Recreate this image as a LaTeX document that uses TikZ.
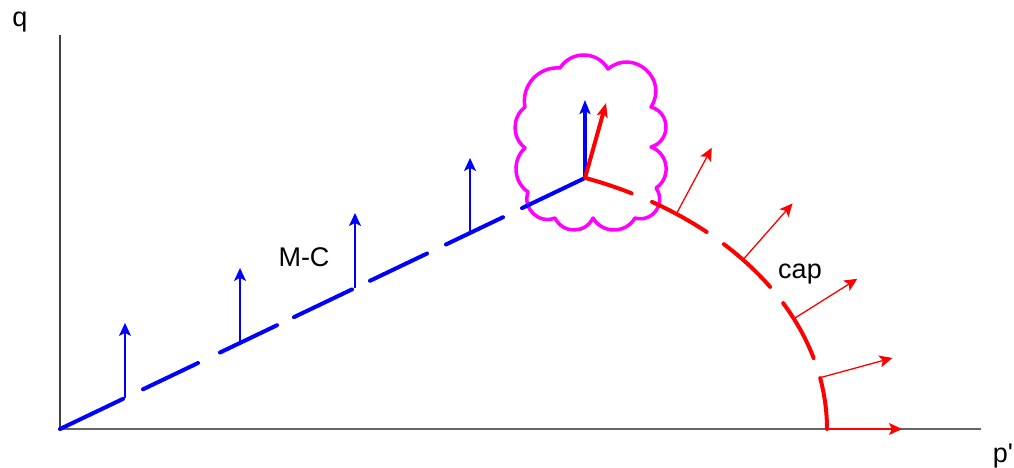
\documentclass[tikz,border=0pt]{standalone}
\usepackage{fontspec}
\setmainfont{Liberation Sans}[Ligatures=TeXOff]
\usetikzlibrary{arrows.meta,calc}
\definecolor{mag}{RGB}{255,0,255}
\definecolor{pblue}{RGB}{0,0,255}
\definecolor{pred}{RGB}{255,0,0}
\begin{document}
\begin{tikzpicture}[x=1pt,y=-1pt,
  lbl/.style={font=\fontsize{27}{32}\selectfont, inner sep=0pt, anchor=base},
  axisv/.style={draw=black!75, line width=1.5pt},
  axish/.style={draw=black!60, line width=1.5pt},
  mcline/.style={draw=pblue, line width=4pt, line cap=round},
  capline/.style={draw=pred, line width=4pt, line cap=round},
  thinblue/.style={draw=pblue, line width=1.5pt, -{Stealth[length=13pt,width=12pt,inset=3pt]}},
  thinred/.style={draw=pred, line width=1.3pt, -{Stealth[length=13pt,width=12pt,inset=3pt]}},
  thickblue/.style={draw=pblue, line width=4pt, -{Stealth[length=14pt,width=11pt,inset=3pt]}},
  thickred/.style={draw=pred, line width=4pt, -{Stealth[length=14pt,width=11pt,inset=3pt]}},
  cloudline/.style={draw=mag, line width=3.5pt, line join=round}
]
\useasboundingbox (0,0) rectangle (1014,468);
\coordinate (O) at (60,429);
\coordinate (ytop) at (60,35);
\coordinate (xend) at (981,429);
\coordinate (A) at (585,178);
\coordinate (Bt) at (585,100);
\coordinate (Rt) at (606,103);

% cloud cusps
\coordinate (c1) at (560,68);
\coordinate (c2) at (608,69);
\coordinate (c3) at (651,107);
\coordinate (c4) at (651,147);
\coordinate (c5) at (656,188);
\coordinate (c6) at (635,218);
\coordinate (c7) at (593,218);
\coordinate (c8) at (555,218);
\coordinate (c9) at (528,192);
\coordinate (c10) at (525,148);
\coordinate (c11) at (525,107);
\draw[cloudline] (c11)
  to[bend left=52.8, looseness=1.061] (c1)
  to[bend left=58.7, looseness=1.121] (c2)
  to[bend left=81.4, looseness=1.48] (c3)
  to[bend left=73.7, looseness=1.33] (c4)
  to[bend left=62.8, looseness=1.168] (c5)
  to[bend left=70.7, looseness=1.28] (c6)
  to[bend left=59.5, looseness=1.13] (c7)
  to[bend left=64.6, looseness=1.19] (c8)
  to[bend left=65.4, looseness=1.2] (c9)
  to[bend left=51.0, looseness=1.045] (c10)
  to[bend left=51.9, looseness=1.055] (c11) -- cycle;

% axes
\draw[axisv] (ytop) -- (O);
\draw[axish] (O) -- (xend);
\node[lbl] (q) at (20,27) {q};
\node[lbl] (p) at (1003,462.5) {p'};

% M-C dashed line
\foreach \a/\b in {0/0.12, 0.1581/0.2629, 0.3048/0.4133, 0.4457/0.5562, 0.5905/0.6990, 0.7352/0.8438, 0.88/1}{
  \draw[mcline] ($(O)!\a!(A)$) -- ($(O)!\b!(A)$);
}
% blue thin arrows
\foreach \f in {0.1238,0.3429,0.5619,0.7810}{
  \draw[thinblue] ($(O)!\f!(A)$) -- ++(0,-75);
}

% cap ellipse segments
\foreach \a/\b in {61.2/69, 47.1/57.6, 31.9/43.4, 15.3/27.9, 0/10.9}{
  \draw[capline] plot[domain=\a:\b, samples=20] ({450+377*cos(\x)},{429-269*sin(\x)});
}
% red normals
\foreach \t in {53.1,39,24.2,11,0}{
  \pgfmathsetmacro{\nx}{cos(\t)*2.69}
  \pgfmathsetmacro{\ny}{sin(\t)*3.77}
  \pgfmathsetmacro{\nn}{sqrt(\nx*\nx+\ny*\ny)}
  \draw[thinred] ({450+377*cos(\t)},{429-269*sin(\t)}) -- ++({75*\nx/\nn},{-75*\ny/\nn});
}

% thick arrows at apex
\draw[thickblue] (A) -- (Bt);
\draw[thickred] (A) -- (Rt);

\node[lbl] (mc) at (304,266.5) {M-C};
\node[lbl] (cap) at (800,278) {cap};
\end{tikzpicture}
\end{document}
